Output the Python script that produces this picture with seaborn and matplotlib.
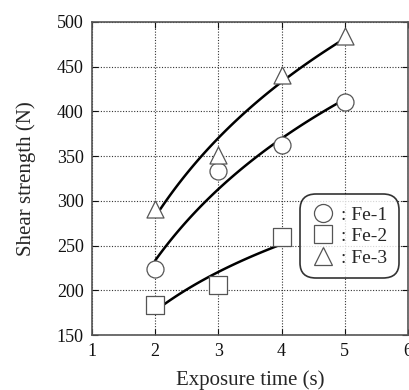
import numpy as np
import pandas as pd
import seaborn as sns
import matplotlib
matplotlib.use("Agg")
import matplotlib.pyplot as plt
from matplotlib.lines import Line2D

# Measured shear strength (N) against exposure time (s)
times_fe1 = [2, 3, 4, 5]
strength_fe1 = [224, 333, 363, 410]
times_fe2 = [2, 3, 4]
strength_fe2 = [183, 206, 260]
times_fe3 = [2, 3, 4, 5]
strength_fe3 = [291, 351, 441, 484]

series = ["Fe-1", "Fe-2", "Fe-3"]
markers = {"Fe-1": "o", "Fe-2": "s", "Fe-3": "^"}

sns.set_style("ticks")
plt.rcParams["font.family"] = ["Liberation Serif", "DejaVu Serif"]

fig = plt.figure(figsize=(4.09, 3.90), dpi=100)
ax = fig.add_axes([0.225, 0.141, 0.7726, 0.8026])

frames = []
for name, t, s in [("Fe-1", times_fe1, strength_fe1),
                   ("Fe-2", times_fe2, strength_fe2),
                   ("Fe-3", times_fe3, strength_fe3)]:
    frames.append(pd.DataFrame({"time": t, "strength": s, "alloy": name}))
data = pd.concat(frames, ignore_index=True)

# Logarithmic trend line fitted to each series
fits = []
for name, grp in data.groupby("alloy"):
    b, a = np.polyfit(np.log(grp["time"]), grp["strength"], 1)
    tt = np.linspace(grp["time"].min(), grp["time"].max(), 100)
    fits.append(pd.DataFrame({"time": tt, "strength": a + b * np.log(tt), "alloy": name}))
fit_df = pd.concat(fits, ignore_index=True)

sns.lineplot(data=fit_df, x="time", y="strength", units="alloy", estimator=None,
             color="black", lw=1.8, ax=ax, legend=False, zorder=3)

for name in series:
    sub = data[data["alloy"] == name]
    ax.scatter(sub["time"], sub["strength"], marker=markers[name], s=150,
               facecolors="white", edgecolors="#555555", linewidths=0.9, zorder=4)

ax.set_xlim(1, 6)
ax.set_ylim(150, 500)
ax.set_xticks([1, 2, 3, 4, 5, 6])
ax.set_yticks(np.arange(150, 501, 50))
ax.grid(True, linestyle=(0, (1, 1.5)), color="#333333", lw=0.8)
ax.tick_params(direction="in", top=True, right=True, labelsize=13,
               length=4, width=0.8, colors="#111111", pad=6)
for sp in ax.spines.values():
    sp.set_color("#555555")
    sp.set_linewidth(1.2)

ax.set_xlabel("Exposure time (s)", fontsize=15, labelpad=7)
ax.set_ylabel("Shear strength (N)", fontsize=15, labelpad=15)

handles = [Line2D([], [], marker=markers[n], linestyle="none", markersize=13,
                  markerfacecolor="white", markeredgecolor="#555555",
                  markeredgewidth=0.9) for n in series]
leg = ax.legend(handles, [": " + n for n in series], loc="center right",
                bbox_to_anchor=(0.965, 0.315), fontsize=14, frameon=True,
                fancybox=True, handletextpad=0.3, handlelength=1.2,
                borderpad=0.5, labelspacing=0.2, borderaxespad=0)
leg.get_frame().set_edgecolor("black")
leg.get_frame().set_linewidth(1.2)
leg.get_frame().set_boxstyle("round,pad=0.1,rounding_size=0.8")

fig.savefig("out.png", dpi=100)
